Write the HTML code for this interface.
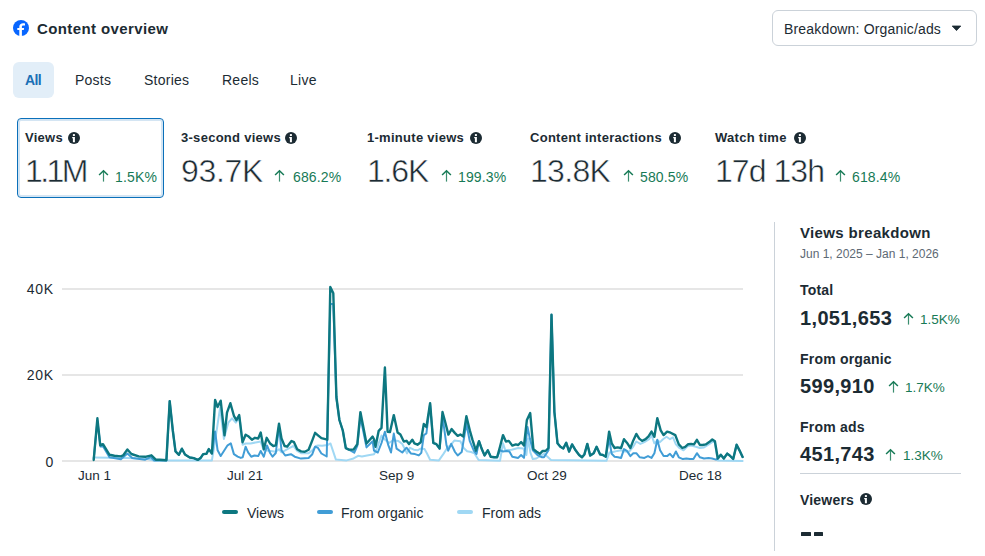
<!DOCTYPE html>
<html><head><meta charset="utf-8"><style>
*{margin:0;padding:0;box-sizing:border-box}
html,body{width:985px;height:556px;overflow:hidden;background:#fff}
body{position:relative;font-family:"Liberation Sans",Arial,sans-serif;color:#1c2b33}
.a{position:absolute;white-space:nowrap;line-height:1}
.fb{left:13px;top:20px;width:16px;height:16px}
.title{left:37px;top:20.6px;font-size:15px;font-weight:bold;letter-spacing:0.4px}
.btn{left:772px;top:10px;width:205px;height:36px;border:1px solid #cbd2d9;border-radius:6px}
.btn span{position:absolute;left:11px;top:11px;font-size:14px;letter-spacing:0.17px}
.pill{left:13px;top:62px;width:41px;height:36px;background:#e2eef8;border-radius:6px}
.tab{top:73px;font-size:14px;letter-spacing:0.25px}
.card{left:17px;top:118px;width:147px;height:80px;border:1px solid #0b70ba;border-radius:4px;box-shadow:inset 0 0 0 2px #d4e5f3}
.lbl{top:131px;font-size:13px;font-weight:bold;letter-spacing:0.28px}
.big{top:155px;font-size:32px;-webkit-text-stroke:0.5px #fff}
.pct{top:170px;font-size:14px;color:#177a56;letter-spacing:0.15px}
.vline{left:774px;top:222px;width:1px;height:329px;background:#cbd2d9}
.rh{left:800px;font-weight:bold;letter-spacing:0.2px}
.num{left:800px;font-size:20px;font-weight:bold;letter-spacing:0.35px}
.ax{font-size:13.5px;color:#1c2b33}
.yl{font-size:14px;letter-spacing:0.8px;width:30px;text-align:right;left:24px}
.leg{top:506px;font-size:14px}
.lg{position:absolute;top:510px;width:16px;height:4px;border-radius:2px}
.ic{position:absolute;width:12px;height:12px}
.ar{position:absolute;width:11px;height:13px}
</style></head><body>
<svg class="a fb" viewBox="0 0 16 16"><circle cx="8" cy="8" r="8" fill="#0866ff"/><path d="M8.9 16V10H10.8L11.1 8.1H8.9V6.8C8.9 6.1 9.2 5.5 10.2 5.5H12V3.4C11.6 3.3 10.9 3.2 10.1 3.2C7.9 3.2 6.3 4.5 6.3 6.8V8.1H4.3V10H6.3V16Z" fill="#fff"/></svg>
<div class="a title">Content overview</div>
<div class="a btn"><span>Breakdown: Organic/ads</span></div>
<svg class="a" style="left:951px;top:25px" width="11" height="7" viewBox="0 0 11 7"><path d="M1.2 1H9.8L5.5 5.6Z" fill="#1c2b33" stroke="#1c2b33" stroke-width="0.8" stroke-linejoin="round"/></svg>

<div class="a pill"></div>
<div class="a tab" style="left:25px;color:#1a6fb5;font-weight:bold;letter-spacing:-0.6px">All</div>
<div class="a tab" style="left:75px">Posts</div>
<div class="a tab" style="left:144px">Stories</div>
<div class="a tab" style="left:222px">Reels</div>
<div class="a tab" style="left:290px">Live</div>

<div class="a card"></div>
<div class="a lbl" style="left:25px">Views</div>
<svg class="ic" style="left:68px;top:132px" viewBox="0 0 12 12"><circle cx="6" cy="6" r="6" fill="#1c2b33"/><rect x="4.9" y="2.1" width="2" height="1.9" fill="#fff"/><path d="M4.2 5.1H6.9V10.2H4.9V6.3H4.2Z" fill="#fff"/></svg>
<div class="a big" style="left:25px;letter-spacing:-2.6px">1.1M</div>
<svg class="ar" style="left:98px;top:169px" viewBox="0 0 11 13"><path d="M5.5 2.2V12.6" fill="none" stroke="#177a56" stroke-width="1.2" opacity="0.85"/><path d="M1.1 6L5.5 1.7L9.9 6" fill="none" stroke="#177a56" stroke-width="1.5"/></svg>
<div class="a pct" style="left:115px">1.5K%</div>

<div class="a lbl" style="left:181px">3-second views</div>
<svg class="ic" style="left:285px;top:132px" viewBox="0 0 12 12"><circle cx="6" cy="6" r="6" fill="#1c2b33"/><rect x="4.9" y="2.1" width="2" height="1.9" fill="#fff"/><path d="M4.2 5.1H6.9V10.2H4.9V6.3H4.2Z" fill="#fff"/></svg>
<div class="a big" style="left:181px;letter-spacing:-0.35px">93.7K</div>
<svg class="ar" style="left:273.5px;top:169px" viewBox="0 0 11 13"><path d="M5.5 2.2V12.6" fill="none" stroke="#177a56" stroke-width="1.2" opacity="0.85"/><path d="M1.1 6L5.5 1.7L9.9 6" fill="none" stroke="#177a56" stroke-width="1.5"/></svg>
<div class="a pct" style="left:293px">686.2%</div>

<div class="a lbl" style="left:367px">1-minute views</div>
<svg class="ic" style="left:470px;top:132px" viewBox="0 0 12 12"><circle cx="6" cy="6" r="6" fill="#1c2b33"/><rect x="4.9" y="2.1" width="2" height="1.9" fill="#fff"/><path d="M4.2 5.1H6.9V10.2H4.9V6.3H4.2Z" fill="#fff"/></svg>
<div class="a big" style="left:367px;letter-spacing:-1.2px">1.6K</div>
<svg class="ar" style="left:440.5px;top:169px" viewBox="0 0 11 13"><path d="M5.5 2.2V12.6" fill="none" stroke="#177a56" stroke-width="1.2" opacity="0.85"/><path d="M1.1 6L5.5 1.7L9.9 6" fill="none" stroke="#177a56" stroke-width="1.5"/></svg>
<div class="a pct" style="left:458px">199.3%</div>

<div class="a lbl" style="left:530px">Content interactions</div>
<svg class="ic" style="left:669px;top:132px" viewBox="0 0 12 12"><circle cx="6" cy="6" r="6" fill="#1c2b33"/><rect x="4.9" y="2.1" width="2" height="1.9" fill="#fff"/><path d="M4.2 5.1H6.9V10.2H4.9V6.3H4.2Z" fill="#fff"/></svg>
<div class="a big" style="left:530px;letter-spacing:-0.7px">13.8K</div>
<svg class="ar" style="left:622.5px;top:169px" viewBox="0 0 11 13"><path d="M5.5 2.2V12.6" fill="none" stroke="#177a56" stroke-width="1.2" opacity="0.85"/><path d="M1.1 6L5.5 1.7L9.9 6" fill="none" stroke="#177a56" stroke-width="1.5"/></svg>
<div class="a pct" style="left:640px">580.5%</div>

<div class="a lbl" style="left:715px">Watch time</div>
<svg class="ic" style="left:794px;top:132px" viewBox="0 0 12 12"><circle cx="6" cy="6" r="6" fill="#1c2b33"/><rect x="4.9" y="2.1" width="2" height="1.9" fill="#fff"/><path d="M4.2 5.1H6.9V10.2H4.9V6.3H4.2Z" fill="#fff"/></svg>
<div class="a big" style="left:715px;letter-spacing:-0.95px">17d 13h</div>
<svg class="ar" style="left:834.5px;top:169px" viewBox="0 0 11 13"><path d="M5.5 2.2V12.6" fill="none" stroke="#177a56" stroke-width="1.2" opacity="0.85"/><path d="M1.1 6L5.5 1.7L9.9 6" fill="none" stroke="#177a56" stroke-width="1.5"/></svg>
<div class="a pct" style="left:852px">618.4%</div>

<!-- chart -->
<div class="a yl" style="top:282px">40K</div>
<div class="a yl" style="top:368px">20K</div>
<div class="a yl" style="top:455px">0</div>
<svg class="a" style="left:0;top:0" width="760" height="500">
<line x1="62" y1="289" x2="743" y2="289" stroke="#e6e6e6" stroke-width="2"/>
<line x1="62" y1="375" x2="743" y2="375" stroke="#e6e6e6" stroke-width="2"/>
<line x1="62" y1="461" x2="743" y2="461" stroke="#e6e6e6" stroke-width="2"/>
<polyline points="93.7,457.5 126.6,458 146.9,458.8 153.4,460.5 211.9,460.4 214.4,445.3 220.1,407.6 223.9,439 228.3,422.7 232,418.3 235.8,422.7 239.6,417.6 242.6,444.7 245.6,443.5 250.6,443.5 256.9,442.2 260.7,441.6 263.8,450.4 267,450.4 270.8,451 275.8,451.7 279,449.2 281.5,452.3 285.2,450.4 289.7,447.9 293.4,446 297.2,451 301,453.2 308.6,453.2 312.3,450.4 316.1,446 318,445.4 322.1,445.8 327.5,445 330.5,443.5 332.8,450.4 335.9,459.6 346.6,460.4 352.7,458.8 358.1,455.8 361.9,456.5 369.6,455 374,454.3 376.8,448.7 381.5,435.5 384.4,439.2 389.1,443 392.9,440.2 398.5,441.1 402.3,444 407,453.4 410,447.8 413.8,449.7 417.5,450.3 420.7,448.5 424.5,449.1 427,453.5 430.1,459.8 438.9,460.4 443.3,454.1 447.7,447.2 450,445.9 454.3,440.6 460.4,441.2 463.7,448 467.1,451.3 471.1,452 474.5,453.4 478.6,460.1 500,460.8 503,443.3 505.3,450.3 511.7,449.7 518.2,448 523.4,448.5 526.4,455 528.1,438.6 530.4,452.6 532.8,459.1 536.3,458.5 542.1,455 544,453.8 547.5,456.7 551,459.9 606.4,460.8 609.4,452.6 612.9,452 617.5,450.9 621.1,450.3 624.6,451.5 629.2,451.5 632.7,447.4 636.3,441.5 640.4,443.9 644.4,442.1 649.1,439.2 651.5,435.1 654.4,443.3 657.3,440.4 660,442.1 663,439.2 666.5,436.8 670,439.2 673,437.4 675.9,444.4 679.4,448 683.5,450.3 687.6,446.2 691.1,445.6 695.8,446.8 699.9,448 704,447.4 708,445 712.1,442.1 714.7,441.8 717.8,460.5 742.6,461" fill="none" stroke="#a0d8f4" stroke-width="2" stroke-linejoin="round" stroke-linecap="round"/>
<polyline points="93.7,458.8 97.4,421 100.6,446.6 103,446.2 109.5,457.2 120.9,459.2 127.4,453.6 132.2,458 145.2,459.7 150.9,457.2 154.2,460.5 166.4,460.5 169.7,401.1 172.8,430.5 175.5,451.4 178.9,454.8 181.9,448.7 185,454.5 189.7,457.5 193.7,458.1 197.8,459.9 200.5,458.1 203.2,454.1 206.5,453.7 208.8,449.1 211.9,453.5 215.1,431.5 217.6,450.3 220.7,456 223.9,451 227.6,445.3 230.8,443.4 233.9,454.1 237.7,456.6 240.8,457.9 242.7,457.3 245.6,446.7 248.1,452.3 251.2,456.7 254.4,455.5 258.2,456.1 260.7,451 263.8,456.7 267,445.4 270.1,453 272.6,456.7 275.8,453 279,426.5 281.5,450.4 285.2,455.5 290.9,454.2 294.7,456.7 301,458.6 308.6,458 312.3,454.2 315.1,446.7 318,447.9 321.4,453.5 326.7,456.5 330.3,304 333.3,304 336.4,398 339.4,420 342.8,430.5 345.8,448.1 348.9,449.6 354.3,452.7 357.3,445.8 360.4,416.7 366.5,447.4 372.6,441.2 374,450.6 377.8,452.5 381.5,443 384.9,431.7 388.2,444.9 391,452.5 393.8,433.6 396.6,448.7 402.3,452.5 406.5,447.7 410.8,453.4 415,454.1 418.8,455.4 421.3,452.9 423.8,435.3 426.4,433.4 430.1,404 433.3,443 436.4,444.3 439.6,448.7 442.5,416.4 446.5,445.3 448.2,450.7 451.2,443.9 455,452 457.7,455.4 461.7,452 466.4,423.7 469.8,441.2 473.8,450.7 476.5,454 479,441.2 481.9,449.3 484.6,455.4 487.8,450.3 490.7,456.7 494.2,457.3 497.1,457.3 500,450.3 503,451.5 506.5,450.9 509.4,451.5 512.3,456.7 518.2,457.9 521.1,455 524,457.9 527.5,426.9 529.9,438.6 532.8,450.3 537.5,455 542.1,457.3 544,457.3 548.5,450.3 551.5,314.8 554.4,412 557.5,443.3 560.4,446.8 563.3,448.5 566.2,442.7 569.1,451.5 572.1,444.4 575.6,450.3 579.1,455 582,457.3 584.4,454.4 587.3,443.9 590.2,455.6 593.7,453.2 596.6,446.8 600.1,454.4 602.9,455 605.8,456.7 609.1,438.6 611.7,453.8 614.6,456.7 618.1,457.3 621.1,457.9 624,449.1 626.9,450.9 630.4,456.1 633.3,453.2 636.3,453.2 639.8,457.3 644.4,457.9 648,456.1 651.5,457.9 654.4,453.2 657.3,439.8 660.1,450.3 663.6,456.1 667.1,456.1 670,453.8 673,457.3 675.9,451.5 678.8,457.3 682.9,459.1 686.4,458.5 689.9,459.1 693.4,459.1 696.9,453.2 699.9,457.3 704,458.5 708.6,457.9 712.1,458.5 716,459.6 717.8,458.5 720.8,454.8 723.8,458.5 727.2,453.6 729.7,455.5 733.2,459 736.6,444.7 739.6,450.6 742.6,457" fill="none" stroke="#419dd6" stroke-width="2" stroke-linejoin="round" stroke-linecap="round"/>
<polyline points="93.7,460 97.4,418.3 100.2,445.4 103,444.2 109.5,454.8 114.4,455.8 120.9,456.4 123.3,455.2 127.4,449.5 131.4,454 138.7,456.4 145.2,456.8 151.4,455.3 155.8,459.7 159.9,459.7 166.4,460.2 169.7,401.1 172.8,430.5 175.5,451.4 178.9,454.8 181.9,448.7 185,454.5 189.7,457.5 193.7,458.1 197.8,459.9 200.5,458.1 203.2,454.1 206.5,453.7 208.8,449.1 211.9,453.5 215.1,400 217.6,407 220.7,400.7 224.5,435.3 227,412.6 230.4,403.2 233.9,415.8 236.4,420.2 239.2,415.1 242.5,442.2 245.6,434.7 248.7,436.6 251.9,439.7 255,437.8 258.2,438.5 260.7,432.5 263.8,449.2 266.7,437.8 270.1,443.5 273.3,446 275.8,445.4 279,423.7 281.5,438.5 284.6,446 287.1,446.7 291.5,441 294,442.2 297.2,449.2 301,451.4 304.8,451.7 308.6,449.8 312.3,440.4 315.1,432.8 318,435.3 321.4,438.2 327.3,439.7 330.3,287 333.3,293.2 336.4,397 339.4,420 342.8,430.5 345.8,448.1 348.9,449.6 353.5,449.6 357.3,444.3 360.4,412.1 366.5,443.5 372.6,436.6 374,439.2 375.5,446.8 378.7,430.8 381.5,427.9 384.9,367.5 387.6,431.7 390,432.1 393.8,415.1 397.6,432.6 400.4,434.5 403.8,441.5 406.5,440.8 409,444 412.3,439.7 414.4,443.4 417.5,444.7 420.7,442.2 423.8,423.9 426.4,427.1 430.1,403.2 433.3,442.8 436.4,444.1 439.6,448.5 442.5,412 445.2,422 448.4,434.6 451.6,429.1 455,433.1 457.7,435.8 460.4,434.5 463.3,436.5 466.4,416.3 469.8,430.4 472.5,439.9 475.9,450.7 479,441.2 481.9,449.3 484.6,455.4 487.8,450.3 490.7,456.7 494.2,457.3 497.1,457.3 500,446.8 503,435.1 505.9,441.5 508.8,440.9 512.3,445.6 515.8,444.4 518.2,445 521.1,442.1 524,445.6 526.9,419.9 530.2,413.1 533.4,449.1 536.3,451.5 539.8,453.8 542.7,450.9 545.5,451 548.5,448 551.5,314.8 554.4,412 557.5,443.3 560.4,446.8 563.3,448.5 566.2,442.7 569.1,451.5 572.1,444.4 575.6,450.3 579.1,455 582,457.3 584.4,454.4 587.3,443.9 590.2,455.6 593.7,453.2 596.6,446.8 600.1,454.4 602.9,455 605.8,456.7 609.1,431.6 611.7,443.3 614.6,448 617.5,447.4 621.1,448 624,439.2 626.9,442.7 630.4,448 633.3,440.4 636.3,433.9 639.2,438.6 642.1,440.9 645.6,439.2 648.5,436.3 651.5,431.6 654.4,436.8 657.3,418.1 660.7,430.4 663.6,435.1 667.1,431.6 670.6,432.7 675.3,435.1 678.8,444.4 682.3,448 685.2,446.8 688.2,444.2 691.1,443.9 694,444.4 696.9,439.8 699.9,445 702.8,445 705.7,444.4 709.2,442.1 712.3,439.5 714.9,441.2 717.8,458.5 720.8,454.8 723.8,458.5 727.2,453.6 729.7,455.5 733.2,459 736.6,444.7 739.6,450.6 742.6,457" fill="none" stroke="#0d7780" stroke-width="2.4" stroke-linejoin="round" stroke-linecap="round"/>
</svg>
<div class="a ax" style="left:78px;top:469px">Jun 1</div>
<div class="a ax" style="left:227px;top:469px">Jul 21</div>
<div class="a ax" style="left:379px;top:469px">Sep 9</div>
<div class="a ax" style="left:527px;top:469px">Oct 29</div>
<div class="a ax" style="left:679px;top:469px">Dec 18</div>

<div class="lg" style="left:222px;background:#0d7780"></div>
<div class="a leg" style="left:247px">Views</div>
<div class="lg" style="left:317px;background:#419dd6"></div>
<div class="a leg" style="left:341px">From organic</div>
<div class="lg" style="left:457px;background:#a0d8f4"></div>
<div class="a leg" style="left:482px">From ads</div>

<!-- right panel -->
<div class="a vline"></div>
<div class="a rh" style="top:225px;font-size:15px;letter-spacing:0.35px">Views breakdown</div>
<div class="a" style="left:800px;top:248px;font-size:12px;color:#5d6974">Jun 1, 2025 – Jan 1, 2026</div>
<div class="a rh" style="top:283px;font-size:14px">Total</div>
<div class="a num" style="top:308px">1,051,653</div>
<svg class="ar" style="left:903px;top:312px" viewBox="0 0 11 13"><path d="M5.5 2.2V12.6" fill="none" stroke="#177a56" stroke-width="1.2" opacity="0.85"/><path d="M1.1 6L5.5 1.7L9.9 6" fill="none" stroke="#177a56" stroke-width="1.5"/></svg>
<div class="a pct" style="left:920px;top:312.5px;font-size:13.5px;letter-spacing:0">1.5K%</div>
<div class="a rh" style="top:352px;font-size:14px">From organic</div>
<div class="a num" style="top:376px">599,910</div>
<svg class="ar" style="left:887.5px;top:380px" viewBox="0 0 11 13"><path d="M5.5 2.2V12.6" fill="none" stroke="#177a56" stroke-width="1.2" opacity="0.85"/><path d="M1.1 6L5.5 1.7L9.9 6" fill="none" stroke="#177a56" stroke-width="1.5"/></svg>
<div class="a pct" style="left:905px;top:380.5px;font-size:13.5px;letter-spacing:0">1.7K%</div>
<div class="a rh" style="top:420px;font-size:14px">From ads</div>
<div class="a num" style="top:444px">451,743</div>
<svg class="ar" style="left:885px;top:448px" viewBox="0 0 11 13"><path d="M5.5 2.2V12.6" fill="none" stroke="#177a56" stroke-width="1.2" opacity="0.85"/><path d="M1.1 6L5.5 1.7L9.9 6" fill="none" stroke="#177a56" stroke-width="1.5"/></svg>
<div class="a pct" style="left:903px;top:448.5px;font-size:13.5px;letter-spacing:0">1.3K%</div>
<div class="a" style="left:800px;top:473px;width:161px;height:1px;background:#cbd2d9"></div>
<div class="a rh" style="top:493px;font-size:14px">Viewers</div>
<svg class="ic" style="left:860px;top:493px" viewBox="0 0 12 12"><circle cx="6" cy="6" r="6" fill="#1c2b33"/><rect x="4.9" y="2.1" width="2" height="1.9" fill="#fff"/><path d="M4.2 5.1H6.9V10.2H4.9V6.3H4.2Z" fill="#fff"/></svg>
<div class="a" style="left:801px;top:532px;width:9.5px;height:3.6px;background:#1c2b33;border-radius:0.5px"></div>
<div class="a" style="left:813.5px;top:532px;width:9.5px;height:3.6px;background:#1c2b33;border-radius:0.5px"></div>
</body></html>
